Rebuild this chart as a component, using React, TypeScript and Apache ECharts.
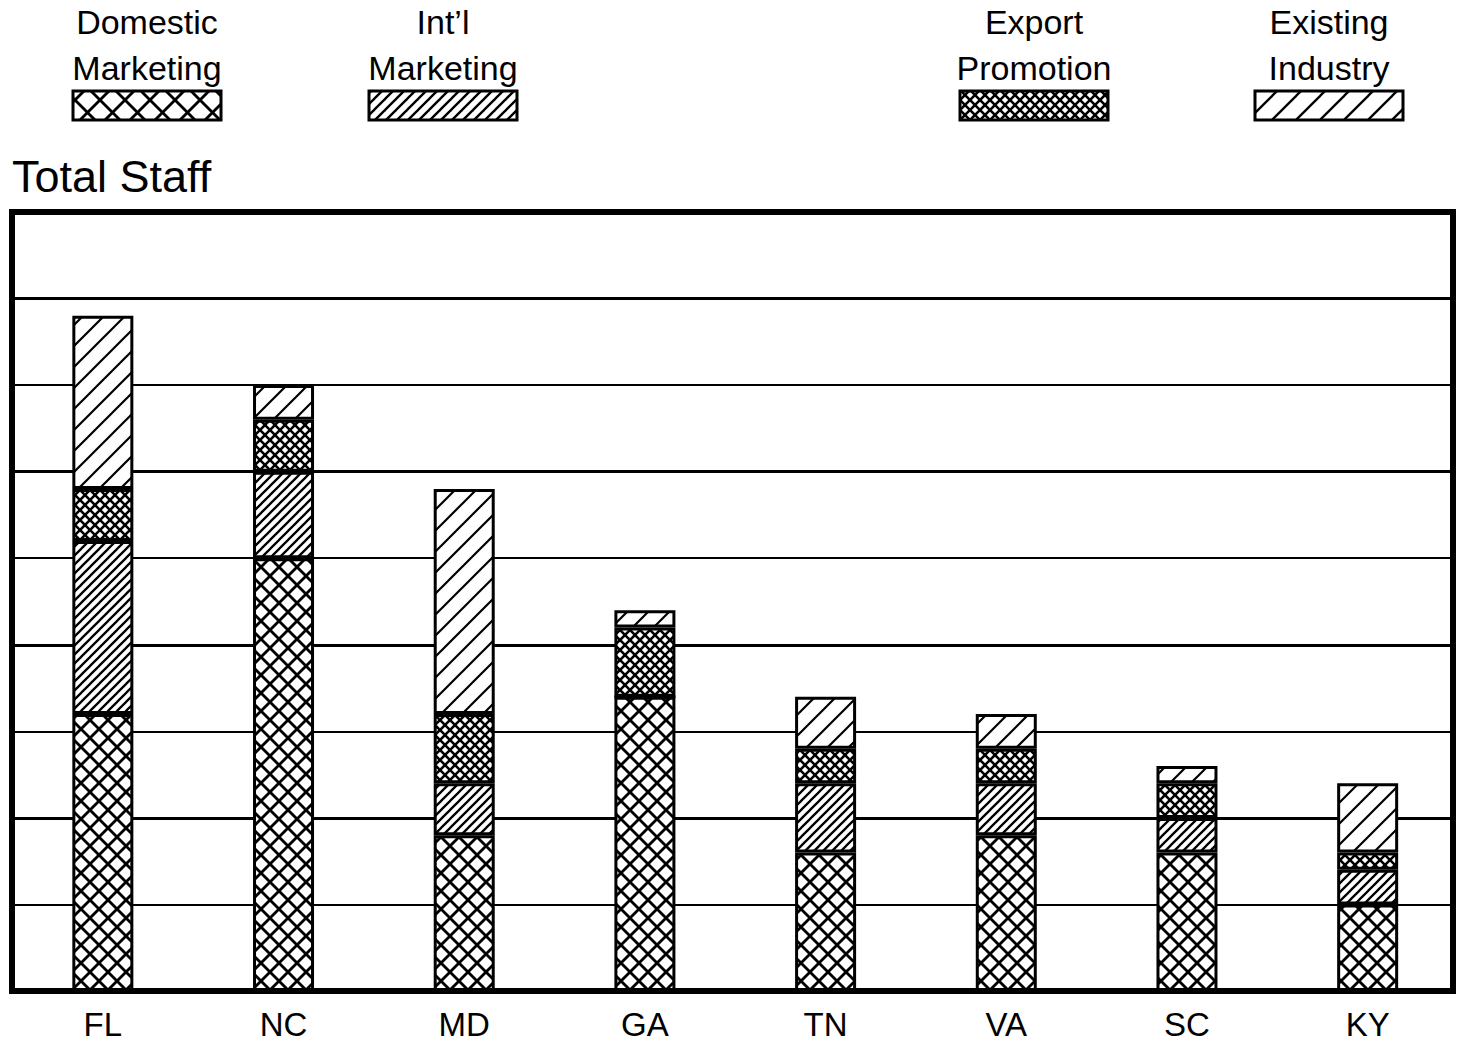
import React, { useEffect, useRef } from "react";
import * as echarts from "echarts";

// Staff counts by state, stacked by program area
const states = ["FL", "NC", "MD", "GA", "TN", "VA", "SC", "KY"];
const domesticMarketing = [16, 25, 9, 17, 8, 9, 8, 5];
const intlMarketing = [10, 5, 3, 0, 4, 3, 2, 2];
const exportPromotion = [3, 3, 4, 4, 2, 2, 2, 1];
const existingIndustry = [10, 2, 13, 1, 3, 2, 1, 4];

const seriesNames = ["Domestic Marketing", "Int’l Marketing", "Export Promotion", "Existing Industry"];
const legendLines = [
  ["Domestic", "Marketing"],
  ["Int’l", "Marketing"],
  ["Export", "Promotion"],
  ["Existing", "Industry"],
];
const yMax = 45;
const yStep = 5;
const yMajorStep = 10;

const FONT = '"Liberation Sans", Arial, Helvetica, sans-serif';

// Square tile with 45° hatch lines ("/" forward, "\" backward), repeated as a fill pattern
function hatch(size: number, lineWidth: number, forward: boolean, backward: boolean) {
  const c = document.createElement("canvas");
  c.width = size;
  c.height = size;
  const ctx = c.getContext("2d")!;
  ctx.fillStyle = "#ffffff";
  ctx.fillRect(0, 0, size, size);
  ctx.strokeStyle = "#000000";
  ctx.lineWidth = lineWidth;
  ctx.lineCap = "square";
  for (let k = -1; k <= 1; k++) {
    if (forward) {
      ctx.beginPath();
      ctx.moveTo(k * size, size);
      ctx.lineTo(k * size + size, 0);
      ctx.stroke();
    }
    if (backward) {
      ctx.beginPath();
      ctx.moveTo(k * size, 0);
      ctx.lineTo(k * size + size, size);
      ctx.stroke();
    }
  }
  return { image: c, repeat: "repeat", imageWidth: size, imageHeight: size } as any;
}

export default function App() {
  const ref = useRef<HTMLDivElement>(null);

  useEffect(() => {
    if (!ref.current) return;
    const chart = echarts.init(ref.current, undefined, { renderer: "svg" });

    const barFills = [
      hatch(18, 2.8, true, true),
      hatch(9, 2.3, true, false),
      hatch(10, 2.6, true, true),
      hatch(21, 2.2, true, false),
    ];
    const keyFills = [
      hatch(25, 2.8, true, true),
      hatch(11, 2.4, true, false),
      hatch(10, 2.6, true, true),
      hatch(24, 2.3, true, false),
    ];
    const values = [domesticMarketing, intlMarketing, exportPromotion, existingIndustry];

    const keyCenters = [147, 443, 1034, 1329];
    const keyWidth = 148;
    const graphics: any[] = [];
    legendLines.forEach((lines, i) => {
      lines.forEach((t, j) => {
        graphics.push({
          type: "text",
          x: keyCenters[i],
          y: 22 + j * 46,
          style: {
            text: t,
            fill: "#000",
            font: `34px ${FONT}`,
            align: "center",
            verticalAlign: "middle",
          },
        });
      });
      graphics.push({
        type: "rect",
        shape: { x: keyCenters[i] - keyWidth / 2, y: 91, width: keyWidth, height: 29 },
        style: { fill: keyFills[i], stroke: "#000", lineWidth: 3 },
      });
    });
    graphics.push({
      type: "text",
      x: 12,
      y: 176,
      style: {
        text: "Total Staff",
        fill: "#000",
        font: `45px ${FONT}`,
        align: "left",
        verticalAlign: "middle",
      },
    });
    // plot frame, drawn over the bars
    graphics.push({
      type: "rect",
      z: 100,
      shape: { x: 12, y: 212, width: 1441, height: 779 },
      style: { fill: "none", stroke: "#000", lineWidth: 6 },
    });

    const hiddenAxisParts = {
      axisLine: { show: false },
      axisTick: { show: false },
      axisLabel: { show: false },
    };

    chart.setOption({
      animation: false,
      backgroundColor: "#ffffff",
      grid: [
        { left: 12.5, top: 212, width: 1445.5, height: 779, show: false },
        { left: 12, top: 212, width: 1441, height: 779, show: false },
      ],
      xAxis: [
        {
          type: "category",
          gridIndex: 0,
          data: states,
          axisLine: { show: false },
          axisTick: { show: false },
          axisLabel: { color: "#000", fontSize: 33, fontFamily: FONT, margin: 17 },
        },
        { type: "value", gridIndex: 1, min: 0, max: 1, show: false },
      ],
      yAxis: [
        { type: "value", gridIndex: 0, min: 0, max: yMax, interval: yStep, show: false },
        {
          type: "value",
          gridIndex: 1,
          min: 0,
          max: yMax,
          interval: yStep,
          ...hiddenAxisParts,
          splitLine: { show: true, lineStyle: { color: "#000", width: 2 } },
        },
        {
          type: "value",
          gridIndex: 1,
          min: 0,
          max: yMax,
          interval: yMajorStep,
          ...hiddenAxisParts,
          splitLine: { show: true, lineStyle: { color: "#000", width: 3.2 } },
        },
      ],
      series: values.map((data, i) => ({
        name: seriesNames[i],
        type: "bar",
        stack: "total",
        xAxisIndex: 0,
        yAxisIndex: 0,
        barWidth: 61,
        data,
        itemStyle: { color: barFills[i], borderColor: "#000", borderWidth: 3 },
      })),
      graphic: graphics,
    });

    return () => chart.dispose();
  }, []);

  return (
    <div
      ref={ref}
      style={{ position: "fixed", left: 0, top: 0, width: 1464, height: 1050, background: "#fff" }}
    />
  );
}
